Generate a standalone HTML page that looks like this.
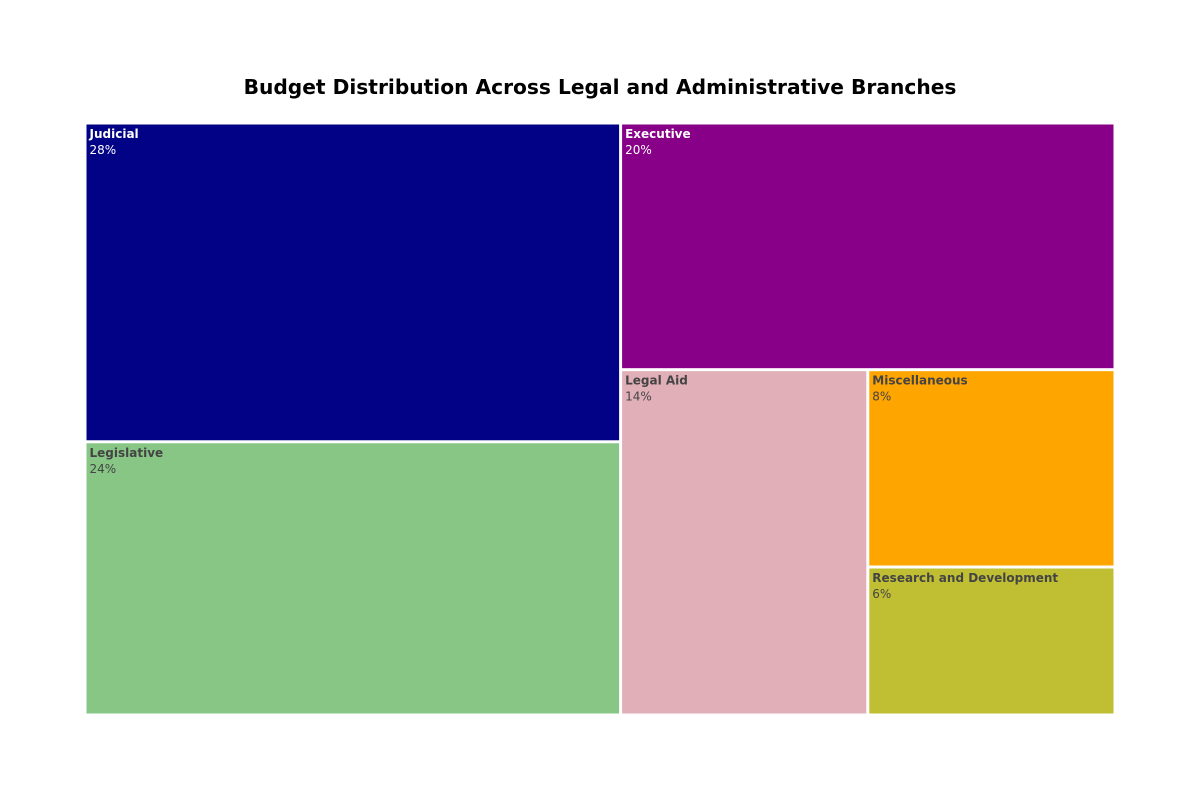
<!DOCTYPE html>
<html><head><meta charset="utf-8">
<style>
body{margin:0;background:#fff;}
svg{display:block;font-family:"DejaVu Sans","Liberation Sans",sans-serif;}
</style></head>
<body>
<svg id="chart" width="1200" height="800">
<text x="600" y="94" text-anchor="middle" font-size="20.2" font-weight="bold" fill="#000">Budget Distribution Across Legal and Administrative Branches</text>
<g id="cells"></g>
</svg>
<script>
const categories = ["Judicial","Legislative","Executive","Legal Aid","Miscellaneous","Research and Development"];
const values = [28,24,20,14,8,6];
const colors = ["#020286","#87c685","#870087","#e1afb8","#ffa500","#c0bf33"];
const textColors = ["#fff","#444","#fff","#444","#444","#444"];

const X0=85,Y0=123,W=1030,H=592;
function worst(row,side){
  const s=row.reduce((a,b)=>a+b,0);const mx=Math.max(...row),mn=Math.min(...row);
  return Math.max(side*side*mx/(s*s),(s*s)/(side*side*mn));
}
function squarify(vals){
  const total=vals.reduce((a,b)=>a+b,0);
  const areas=vals.map(v=>v*W*H/total);
  const rects=[];let x=X0,y=Y0,w=W,h=H;let i=0;
  while(i<areas.length){
    const side=Math.min(w,h);let row=[areas[i]];let j=i+1;
    while(j<areas.length&&worst(row.concat(areas[j]),side)<=worst(row,side)){row.push(areas[j]);j++;}
    const s=row.reduce((a,b)=>a+b,0);
    if(w>=h){const cw=s/h;let cy=y;row.forEach(a=>{const ch=a/cw;rects.push([x,cy,cw,ch]);cy+=ch;});x+=cw;w-=cw;}
    else{const ch=s/w;let cx=x;row.forEach(a=>{const cw2=a/ch;rects.push([cx,y,cw2,ch]);cx+=cw2;});y+=ch;h-=ch;}
    i=j;
  }
  return rects;
}
const total=values.reduce((a,b)=>a+b,0);
const rects=squarify(values);
const g=document.getElementById('cells');
const ns="http://www.w3.org/2000/svg";
rects.forEach((r,k)=>{
  const grp=document.createElementNS(ns,'g');
  
  
  const rect=document.createElementNS(ns,'rect');
  rect.setAttribute('x',r[0]+1.5);rect.setAttribute('y',r[1]+1.5);
  rect.setAttribute('width',Math.max(0,r[2]-3));rect.setAttribute('height',Math.max(0,r[3]-3));
  rect.setAttribute('fill',colors[k]);
  
  
  grp.appendChild(rect);
  const t1=document.createElementNS(ns,'text');
  t1.setAttribute('x',r[0]+4.5);t1.setAttribute('y',r[1]+15);
  t1.setAttribute('font-size','12');t1.setAttribute('font-weight','bold');t1.setAttribute('fill',textColors[k]);
  t1.textContent=categories[k];
  
  
  grp.appendChild(t1);
  const t2=document.createElementNS(ns,'text');
  t2.setAttribute('x',r[0]+4.5);t2.setAttribute('y',r[1]+31);
  t2.setAttribute('font-size','12');t2.setAttribute('fill',textColors[k]);
  t2.textContent=Math.round(values[k]/total*100)+'%';
  
  
  grp.appendChild(t2);
  g.appendChild(grp);
});
</script>
</body></html>
